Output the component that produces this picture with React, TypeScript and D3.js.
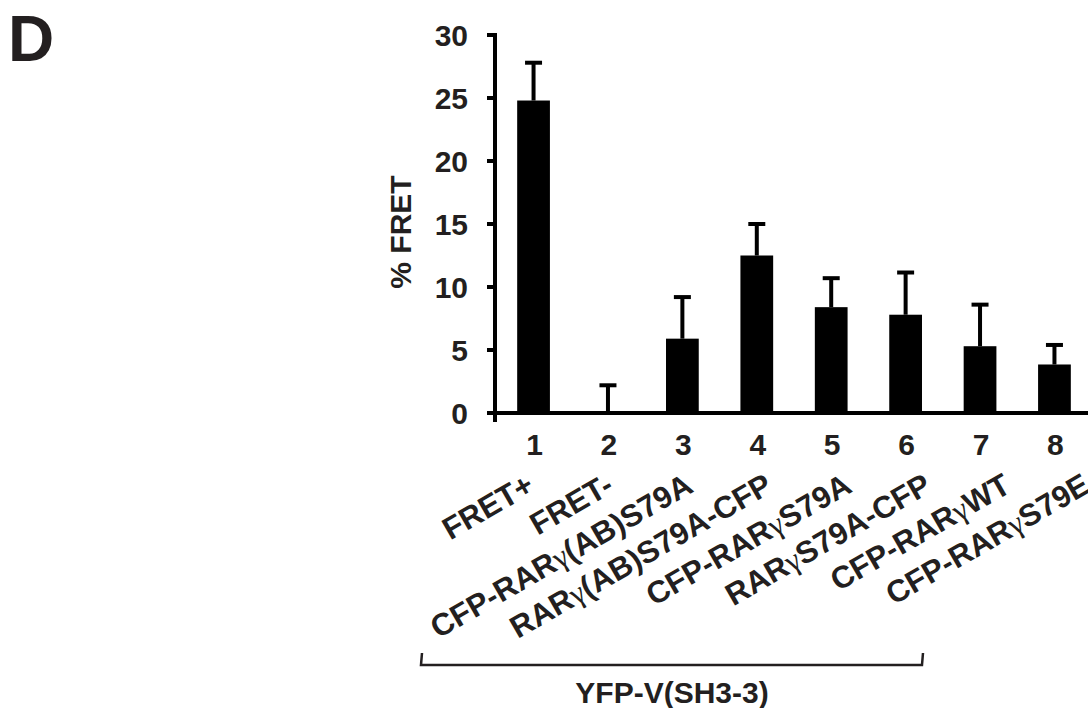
import React, { useEffect, useRef } from "react";
import * as d3 from "d3";

// Data
const categories = ["1", "2", "3", "4", "5", "6", "7", "8"];
const constructs = [
  "FRET+",
  "FRET-",
  "CFP-RARγ(AB)S79A",
  "RARγ(AB)S79A-CFP",
  "CFP-RARγS79A",
  "RARγS79A-CFP",
  "CFP-RARγWT",
  "CFP-RARγS79E",
];
const fretMeans = [24.8, 0, 5.9, 12.5, 8.4, 7.8, 5.3, 3.85];
const fretErrors = [3.0, 2.2, 3.3, 2.5, 2.3, 3.35, 3.3, 1.55];
const yTicks = [0, 5, 10, 15, 20, 25, 30];
const groupLabel = "YFP-V(SH3-3)";
const yLabel = "% FRET";
const panelLetter = "D";

const App = () => {
  const ref = useRef<HTMLDivElement>(null);

  useEffect(() => {
    d3.select(ref.current).selectAll("*").remove();

    const width = 1088;
    const height = 708;
    const font = "'Liberation Sans', Arial, sans-serif";
    const ink = "#231f20";

    const svg = d3
      .select(ref.current)
      .append("svg")
      .attr("width", width)
      .attr("height", height)
      .style("position", "absolute")
      .style("left", 0)
      .style("top", 0)
      .style("font-family", font)
      .style("font-weight", "bold");

    // Scales
    const axisX = 495;
    const y = d3.scaleLinear().domain([0, 30]).range([413, 35]);
    const x = d3
      .scaleBand()
      .domain(categories)
      .range([axisX, 1093])
      .paddingInner(0.56)
      .paddingOuter(0.298);
    // rotated names sit on a slightly wider spacing than the bars
    const xName = d3.scalePoint().domain(categories).range([536, 1092]);

    const data = categories.map((c, i) => ({
      cat: c,
      name: constructs[i],
      mean: fretMeans[i],
      err: fretErrors[i],
    }));

    // Bars
    svg
      .selectAll("rect.bar")
      .data(data)
      .enter()
      .append("rect")
      .attr("class", "bar")
      .attr("x", (d) => x(d.cat)!)
      .attr("width", x.bandwidth())
      .attr("y", (d) => y(d.mean))
      .attr("height", (d) => y(0) - y(d.mean))
      .attr("fill", "#000");

    // Error bars (upper only)
    const cx = (d) => x(d.cat)! + x.bandwidth() / 2;
    svg
      .selectAll("line.stem")
      .data(data)
      .enter()
      .append("line")
      .attr("x1", cx)
      .attr("x2", cx)
      .attr("y1", (d) => y(d.mean))
      .attr("y2", (d) => y(d.mean + d.err))
      .attr("stroke", "#000")
      .attr("stroke-width", 4);
    svg
      .selectAll("line.cap")
      .data(data)
      .enter()
      .append("line")
      .attr("x1", (d) => cx(d) - 8.5)
      .attr("x2", (d) => cx(d) + 8.5)
      .attr("y1", (d) => y(d.mean + d.err))
      .attr("y2", (d) => y(d.mean + d.err))
      .attr("stroke", "#000")
      .attr("stroke-width", 4);

    // Axes
    svg
      .append("line")
      .attr("x1", axisX)
      .attr("x2", axisX)
      .attr("y1", y(30) - 2)
      .attr("y2", y(0) + 9)
      .attr("stroke", "#000")
      .attr("stroke-width", 4);
    svg
      .append("line")
      .attr("x1", axisX - 8)
      .attr("x2", 1093)
      .attr("y1", y(0))
      .attr("y2", y(0))
      .attr("stroke", "#000")
      .attr("stroke-width", 4);

    svg
      .selectAll("line.ytick")
      .data(yTicks)
      .enter()
      .append("line")
      .attr("x1", axisX - 8)
      .attr("x2", axisX)
      .attr("y1", (d) => y(d))
      .attr("y2", (d) => y(d))
      .attr("stroke", "#000")
      .attr("stroke-width", 4);

    svg
      .selectAll("text.ylab")
      .data(yTicks)
      .enter()
      .append("text")
      .attr("x", 468)
      .attr("y", (d) => y(d) + 10.5)
      .attr("text-anchor", "end")
      .attr("font-size", 30)
      .attr("fill", ink)
      .text((d) => d);

    svg
      .append("text")
      .attr("transform", `translate(411, 232) rotate(-90)`)
      .attr("text-anchor", "middle")
      .attr("font-size", 30)
      .attr("fill", ink)
      .text(yLabel);

    // Bar numbers
    svg
      .selectAll("text.num")
      .data(data)
      .enter()
      .append("text")
      .attr("x", (d) => cx(d) + 1)
      .attr("y", 455)
      .attr("text-anchor", "middle")
      .attr("font-size", 30)
      .attr("fill", ink)
      .text((d) => d.cat);

    // Rotated construct names, gamma set in a lighter serif
    const names = svg
      .selectAll("text.name")
      .data(data)
      .enter()
      .append("text")
      .attr("transform", (d) => `translate(${xName(d.cat)}, 491) rotate(-30)`)
      .attr("text-anchor", "end")
      .attr("font-size", 31)
      .attr("fill", ink);
    names.each(function (d) {
      const parts = d.name.split("γ");
      const t = d3.select(this);
      parts.forEach((p, i) => {
        if (i > 0) {
          t.append("tspan")
            .attr("font-family", "'Liberation Serif', serif")
            .attr("font-weight", "normal")
            .text("γ");
        }
        t.append("tspan").text(p);
      });
    });

    // Group bracket
    const bx0 = 422;
    const bx1 = x("6")! + x.bandwidth();
    svg
      .append("path")
      .attr("d", `M${bx0},653 L${bx0 - 1},665 L${bx1},665 L${bx1 + 1},653`)
      .attr("fill", "none")
      .attr("stroke", ink)
      .attr("stroke-width", 2.5);
    svg
      .append("text")
      .attr("x", (bx0 + bx1) / 2)
      .attr("y", 703)
      .attr("text-anchor", "middle")
      .attr("font-size", 30)
      .attr("fill", ink)
      .text(groupLabel);

    // Panel letter
    svg
      .append("text")
      .attr("x", 8)
      .attr("y", 61)
      .attr("font-size", 64)
      .attr("fill", ink)
      .text(panelLetter);
  }, []);

  return <div ref={ref}></div>;
};

export default App;
